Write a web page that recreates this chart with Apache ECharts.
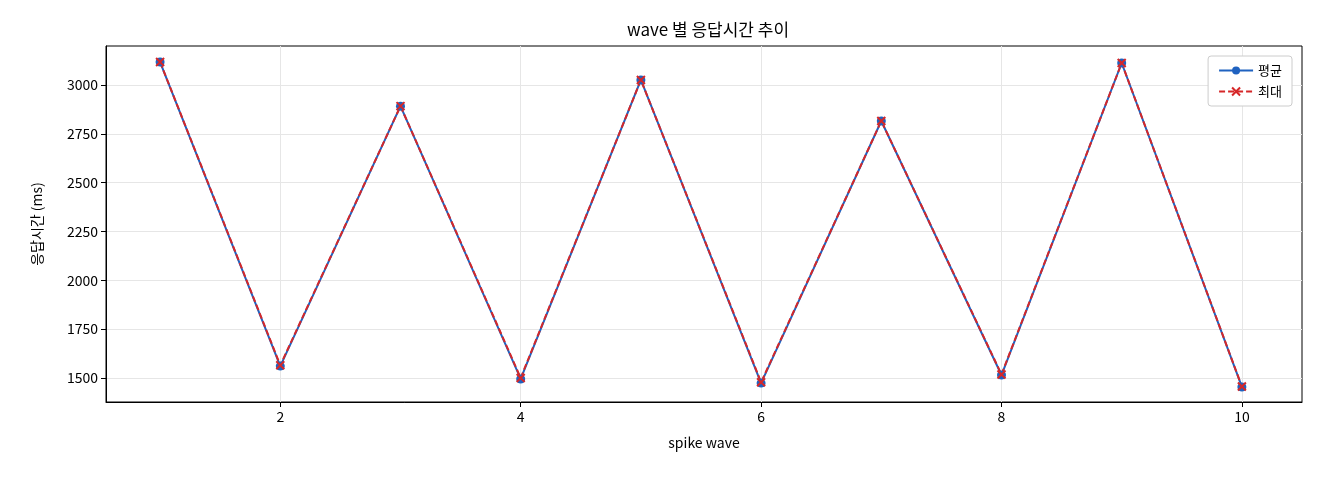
<!DOCTYPE html>
<html><head><meta charset="utf-8">
<script src="https://cdn.jsdelivr.net/npm/echarts@6/dist/echarts.min.js"></script>
<style>html,body{margin:0;background:#fff}#c{width:1320px;height:480px}</style>
</head><body><div id="c"></div>
<script>
const waves = [1,2,3,4,5,6,7,8,9,10];
const avgValues = [3118,1561,2892,1495,3026,1474,2816,1515,3113,1454];
const maxValues = [3118,1565,2892,1500,3026,1478,2816,1518,3113,1456];
const xTicks = [2,4,6,8,10];
const yTicks = [1500,1750,2000,2250,2500,2750,3000];
const FONT = '"Noto Sans CJK KR", "DejaVu Sans", sans-serif';
const xPath = 'path://M0,0L10,10M10,0L0,10';
const chart = echarts.init(document.getElementById('c'));
chart.setOption({
  animation:false,
  textStyle:{fontFamily:FONT},
  title:{text:'wave 별 응답시간 추이',left:703,top:16,textAlign:'center',textStyle:{fontSize:17,fontWeight:'normal',color:'#000',fontFamily:FONT}},
  grid:{left:106,right:18,top:46,bottom:78,show:true,borderColor:'#000',borderWidth:1},
  legend:{right:28,top:56,orient:'vertical',itemGap:8,backgroundColor:'#fff',borderColor:'#ccc',borderWidth:1,borderRadius:3,padding:[8,10],
    textStyle:{fontSize:13,color:'#000',fontFamily:FONT},itemWidth:34,itemHeight:10,
    data:['평균','최대']},
  xAxis:{type:'value',min:0.55,max:10.5,name:'spike wave',nameLocation:'middle',nameGap:34,
    nameTextStyle:{fontSize:14,color:'#000'},
    axisLine:{show:true,lineStyle:{color:'#000'}},axisTick:{show:true,customValues:xTicks,lineStyle:{color:'#000'}},
    axisLabel:{fontSize:14,color:'#000',customValues:xTicks,formatter:v=>String(v)},
    splitLine:{show:true,lineStyle:{color:'#e6e6e6'}}},
  yAxis:{type:'value',min:1377,max:3200,name:'응답시간 (ms)',nameLocation:'middle',nameGap:62,
    nameTextStyle:{fontSize:14,color:'#000'},
    axisLine:{show:true,lineStyle:{color:'#000'}},axisTick:{show:true,customValues:yTicks,lineStyle:{color:'#000'}},
    axisLabel:{fontSize:14,color:'#000',customValues:yTicks,formatter:v=>String(v)},
    splitLine:{show:true,lineStyle:{color:'#e6e6e6'}}},
  series:[
    {name:'평균',type:'line',data:waves.map((w,i)=>[w,avgValues[i]]),symbol:'circle',symbolSize:9,
      itemStyle:{color:'#1f62c0'},lineStyle:{color:'#1f62c0',width:2}},
    {name:'최대',type:'line',data:waves.map((w,i)=>[w,maxValues[i]]),symbol:xPath,symbolSize:8,
      itemStyle:{color:'#d62728',borderColor:'#d62728',borderWidth:2},lineStyle:{color:'#d62728',width:2,type:[6,3]}}
  ]
});
</script></body></html>
